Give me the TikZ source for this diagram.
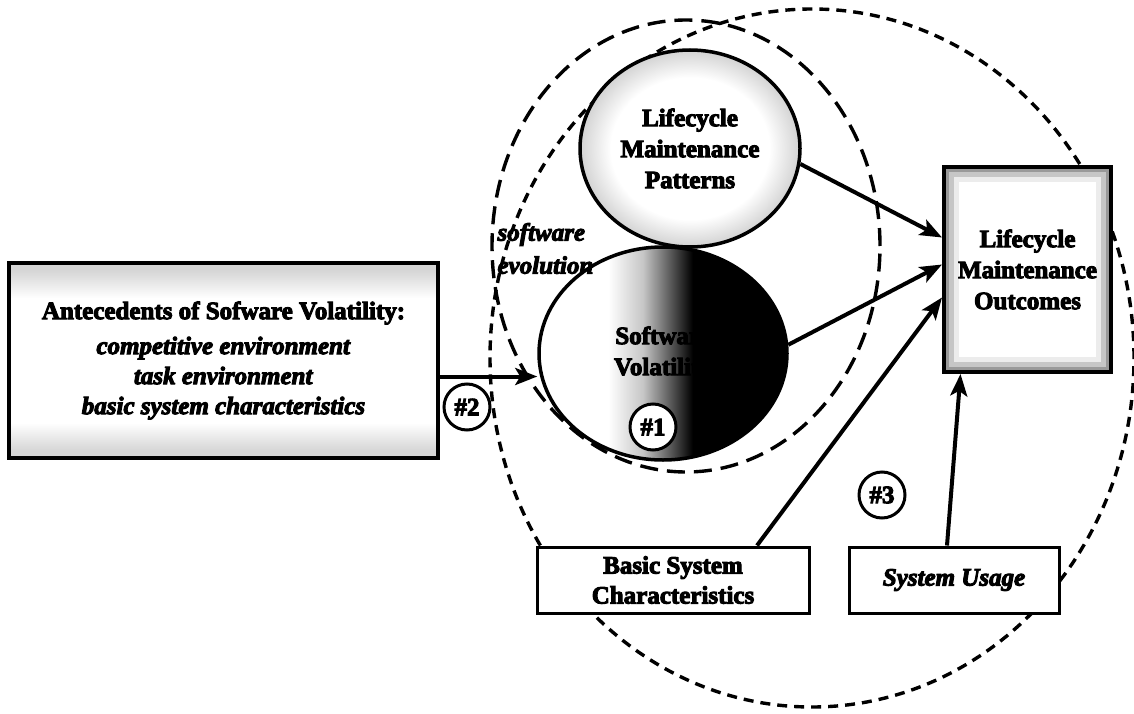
\documentclass[tikz,border=0pt]{standalone}
\usepackage{fontspec}
\setmainfont{Liberation Serif}[BoldFont={Liberation Serif Bold},BoldItalicFont={Liberation Serif Bold Italic},BoldFeatures={FakeBold=4},BoldItalicFeatures={FakeBold=4}]
\usetikzlibrary{shapes.geometric,arrows.meta}

% soft white-to-black fill of the volatility ellipse
\pgfdeclarehorizontalshading{volshade}{100bp}{color(0bp)=(white); color(39bp)=(white); color(46bp)=(gray!45); color(56bp)=(black); color(100bp)=(black)}
% grey rim inside the patterns ellipse
\pgfdeclareradialshading{patshade}{\pgfpoint{0bp}{0bp}}{color(0bp)=(white); color(18bp)=(white); color(25bp)=(gray!35); color(50bp)=(gray!35)}
% grey bands at top and bottom of the antecedents box
\pgfdeclareverticalshading{antshade}{100bp}{color(0bp)=(gray!40); color(27bp)=(gray!32); color(34bp)=(white); color(66bp)=(white); color(73bp)=(gray!32); color(100bp)=(gray!40)}

\tikzset{
  txt/.style={font=\fontsize{25}{31}\selectfont\bfseries},
  outline/.style={draw=black, line width=3.5pt},
  bigdash/.style={ellipse, draw=black, line width=3.4pt, dash pattern=on 10pt off 7pt, inner sep=0pt},
  evodash/.style={ellipse, draw=black, line width=3.4pt, dash pattern=on 18pt off 9pt, inner sep=0pt},
  conceptell/.style={ellipse, outline, shade, inner sep=0pt, align=center, txt},
  plainbox/.style={rectangle, outline, line width=3pt, fill=white, inner sep=0pt, align=center, txt},
  tag/.style={circle, draw=black, line width=3pt, fill=white, minimum size=46pt, inner sep=0pt, txt},
  conn/.style={draw=black, line width=4pt, -{Stealth[length=22pt,width=17pt,inset=5pt]}},
  lmobox/.style={rectangle, draw=black, line width=4pt, fill=gray!80, inner sep=0pt, align=center, txt,
    path picture={
      \fill[gray!45] ([shift={(5pt,-5pt)}]path picture bounding box.north west) rectangle ([shift={(-5pt,5pt)}]path picture bounding box.south east);
      \fill[gray!15] ([shift={(10pt,-10pt)}]path picture bounding box.north west) rectangle ([shift={(-10pt,10pt)}]path picture bounding box.south east);
      \fill[white] ([shift={(15pt,-15pt)}]path picture bounding box.north west) rectangle ([shift={(-15pt,15pt)}]path picture bounding box.south east);
    }},
}

\begin{document}
\begin{tikzpicture}[x=1pt,y=-1pt]
\fill[white] (0,0) rectangle (1134,714);
\useasboundingbox (0,0) rectangle (1134,714);

% enclosing dashed outlines
\node[bigdash, minimum width=644pt, minimum height=698pt] (outer) at (812,358) {};
\node[evodash, minimum width=388pt, minimum height=452pt] (evo) at (686,246) {};

% concept ellipses
\node[conceptell, shading=patshade, minimum width=220pt, minimum height=197pt] (lmp) at (690,148.5)
  {Lifecycle\\Maintenance\\Patterns};
\node[conceptell, shading=volshade, minimum width=248pt, minimum height=213pt] (sv) at (663,353.5)
  {Software\\Volatility};

\node[anchor=west, align=left, font=\fontsize{25}{33}\selectfont\bfseries\itshape] (evolbl) at (494,248.5)
  {software\\evolution};

% boxes
\node[rectangle, outline, line width=4pt, shade, shading=antshade, minimum width=429pt, minimum height=195pt, inner sep=0pt,
      align=center, font=\fontsize{25}{30}\selectfont\bfseries] (ante) at (223.5,360.5)
  {Antecedents of Sofware Volatility:\\[5pt]
   \textit{competitive environment}\\
   \textit{task environment}\\
   \textit{basic system characteristics}};

\node[lmobox, minimum width=167pt, minimum height=205pt] (lmo) at (1027.5,269.5)
  {Lifecycle\\Maintenance\\Outcomes};

\node[plainbox, minimum width=272pt, minimum height=66pt, font=\fontsize{25}{30}\selectfont\bfseries] (bsc) at (673,580)
  {Basic System\\Characteristics};
\node[plainbox, minimum width=210pt, minimum height=66pt] (su) at (954,580)
  {\itshape System Usage};

% connectors
\draw[conn] ([yshift=-16pt]ante.east) -- ([yshift=-16pt]ante.east -| sv.west);
\draw[conn] (lmp.-8) -- ([yshift=32pt]lmo.west);
\draw[conn] (sv.4) -- ([yshift=5pt]lmo.west);
\draw[conn] ([xshift=84pt]bsc.north) -- ([yshift=-28pt]lmo.west);
\draw[conn] ([xshift=-7pt]su.north) -- ([xshift=-67pt]lmo.south);

% numbered markers
\node[tag] (n2) at (467,407) {\#2};
\node[tag] (n1) at (653,427) {\#1};
\node[tag] (n3) at (882,495) {\#3};
\end{tikzpicture}
\end{document}
